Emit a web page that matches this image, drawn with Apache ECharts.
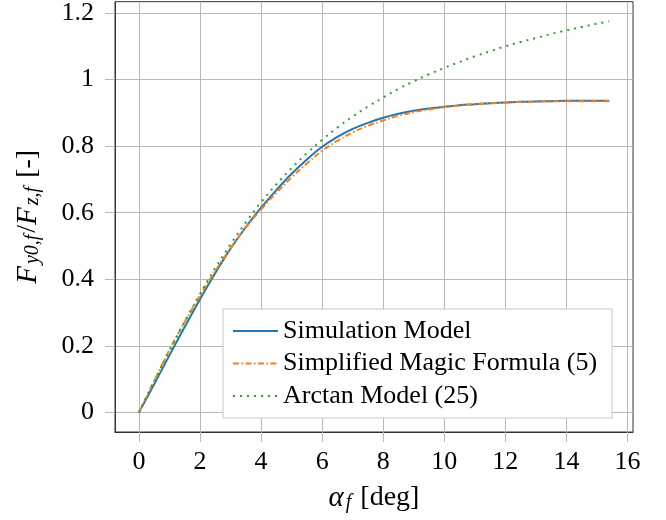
<!DOCTYPE html>
<html>
<head>
<meta charset="utf-8">
<title>Lateral force ratio</title>
<script src="https://cdn.jsdelivr.net/npm/echarts@6/dist/echarts.min.js"></script>
<style>
  html, body { margin: 0; padding: 0; background: #fff; }
  #chart { width: 666px; height: 520px; }
</style>
</head>
<body>
<div id="chart"></div>
<script>
// slip angle [deg]
const alpha = [0, 0.5, 1, 1.5, 2, 2.5, 3, 3.5, 4, 4.5, 5, 5.5, 6, 6.5, 7, 7.5,
  8, 8.5, 9, 9.5, 10, 10.5, 11, 11.5, 12, 12.5, 13, 13.5, 14, 14.5, 15, 15.4];

// Fy0/Fz
const simulation = [0, 0.085, 0.172, 0.257, 0.340, 0.419, 0.492, 0.557, 0.615, 0.668,
  0.717, 0.760, 0.798, 0.828, 0.852, 0.870, 0.885, 0.897, 0.906, 0.913, 0.918, 0.923,
  0.926, 0.929, 0.931, 0.933, 0.934, 0.935, 0.936, 0.936, 0.936, 0.936];
const magicFormula = [0, 0.095, 0.188, 0.272, 0.351, 0.425, 0.493, 0.555, 0.610, 0.660,
  0.706, 0.748, 0.786, 0.816, 0.841, 0.861, 0.877, 0.891, 0.902, 0.910, 0.917, 0.922,
  0.926, 0.929, 0.931, 0.933, 0.934, 0.935, 0.935, 0.935, 0.935, 0.935];
const arctanModel = [0, 0.093, 0.185, 0.273, 0.356, 0.433, 0.505, 0.571, 0.631, 0.685,
  0.734, 0.779, 0.819, 0.856, 0.889, 0.919, 0.946, 0.972, 0.995, 1.016, 1.035, 1.053,
  1.070, 1.085, 1.100, 1.113, 1.125, 1.137, 1.148, 1.158, 1.168, 1.175];

const seriesNames = ["Simulation Model", "Simplified Magic Formula (5)", "Arctan Model (25)"];

const xTicks = [0, 2, 4, 6, 8, 10, 12, 14, 16];
const yTicks = [0, 0.2, 0.4, 0.6, 0.8, 1, 1.2];

const serif = "'Liberation Serif', 'DejaVu Serif', serif";
const gridGray = "#b8b8b8";

const pairs = (ys) => alpha.map((a, i) => [a, ys[i]]);

const nameRich = {
  i: { fontFamily: serif, fontStyle: "italic", fontSize: 29, lineHeight: 30, color: "#000", padding: [0, 1, 0, 0] },
  sub: { fontFamily: serif, fontStyle: "italic", fontSize: 20, lineHeight: 15, verticalAlign: "bottom", color: "#000", padding: [0, 2, 0, 1] },
  r: { fontFamily: serif, fontSize: 28, lineHeight: 30, color: "#000" },
};

const chart = echarts.init(document.getElementById("chart"), null, { renderer: "canvas" });

chart.setOption({
  animation: false,
  backgroundColor: "#fff",
  grid: {
    left: 115,
    right: 33,
    top: 1.5,
    bottom: 88,
    show: true,
    borderColor: "#333",
    borderWidth: 1,
  },
  legend: {
    orient: "vertical",
    left: 223,
    top: 309,
    padding: [9, 15, 9, 9],
    itemWidth: 45,
    itemHeight: 14,
    itemGap: 6.5,
    backgroundColor: "#fff",
    borderColor: "#c8c8c8",
    borderWidth: 1,
    borderRadius: 0,
    itemStyle: { opacity: 0 },
    textStyle: { fontFamily: serif, fontSize: 26, color: "#000" },
    data: seriesNames,
  },
  xAxis: {
    type: "value",
    min: -0.785,
    max: 16.18,
    splitNumber: 8,
    axisLine: { show: true, onZero: false, lineStyle: { color: "#333", width: 1 } },
    axisTick: { show: true, length: 10, customValues: xTicks, lineStyle: { color: gridGray } },
    axisLabel: {
      customValues: xTicks,
      margin: 17,
      fontFamily: serif,
      fontSize: 26,
      color: "#000",
    },
    splitLine: { show: true, lineStyle: { color: gridGray, width: 1 } },
    name: "{i|α}{sub|f}{r| [deg]}",
    nameLocation: "middle",
    nameGap: 51,
    nameTextStyle: { rich: nameRich },
  },
  yAxis: {
    type: "value",
    min: -0.059,
    max: 1.234,
    splitNumber: 6,
    axisLine: { show: true, onZero: false, lineStyle: { color: "#333", width: 1 } },
    axisTick: { show: true, length: 10, customValues: yTicks, lineStyle: { color: gridGray } },
    axisLabel: {
      customValues: yTicks,
      margin: 21,
      fontFamily: serif,
      fontSize: 26,
      color: "#000",
    },
    splitLine: { show: true, lineStyle: { color: gridGray, width: 1 } },
    name: "{i|F}{sub|y0,f}{r|/}{i|F}{sub|z,f}{r| [-]}",
    nameLocation: "middle",
    nameRotate: 90,
    nameGap: 72,
    nameTextStyle: { rich: nameRich },
  },
  series: [
    {
      name: seriesNames[0],
      type: "line",
      data: pairs(simulation),
      showSymbol: false,
      symbol: "none",
      smooth: 0.4,
      lineStyle: { color: "#1f77b4", width: 2 },
      itemStyle: { color: "#1f77b4" },
      z: 3,
    },
    {
      name: seriesNames[1],
      type: "line",
      data: pairs(magicFormula),
      showSymbol: false,
      symbol: "none",
      smooth: 0.4,
      lineStyle: { color: "#ff7f0e", width: 2, type: [6, 2.5, 1.5, 2.5] },
      itemStyle: { color: "#ff7f0e" },
      z: 4,
    },
    {
      name: seriesNames[2],
      type: "line",
      data: pairs(arctanModel),
      showSymbol: false,
      symbol: "none",
      smooth: 0.4,
      lineStyle: { color: "#2ca02c", width: 2, type: [2, 5] },
      itemStyle: { color: "#2ca02c" },
      z: 5,
    },
  ],
});
</script>
</body>
</html>
